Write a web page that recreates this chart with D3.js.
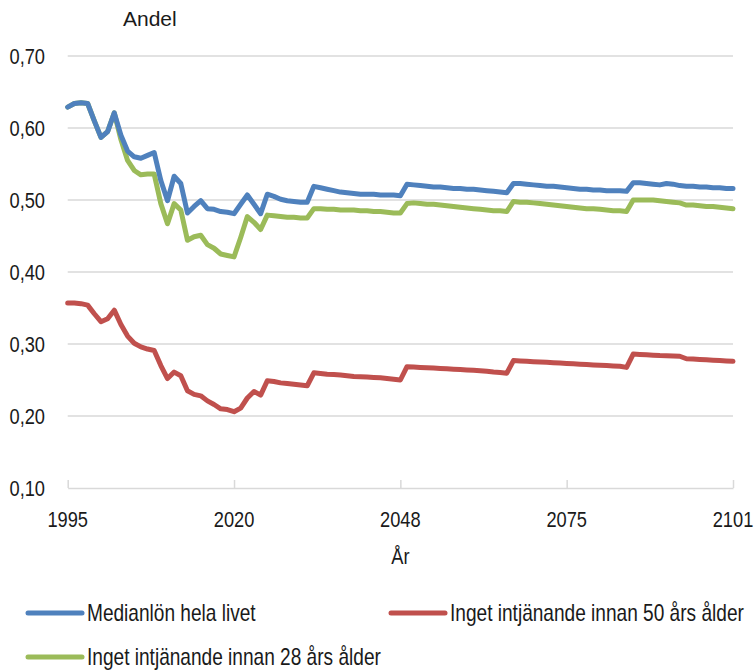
<!DOCTYPE html>
<html lang="sv">
<head>
  <meta charset="UTF-8" />
  <title>Andel</title>
  <script src="https://d3js.org/d3.v7.min.js"></script>
  <style>
    body { margin: 0; padding: 0; background: #fff; }
    svg { display: block; }
    .narrow { font-family: "Liberation Sans", Arial, sans-serif; fill: #1a1a1a; }
    .grid line { stroke: #d9d9d9; stroke-width: 1.5; }
    .series { fill: none; stroke-width: 5; stroke-linejoin: round; stroke-linecap: round; }
  </style>
</head>
<body>
<div id="chart"></div>
<script>
  // ---- data, one value per category ----
  const xTickLabels = ["1995", "2020", "2048", "2075", "2101"];
  const yTicks = [0.10, 0.20, 0.30, 0.40, 0.50, 0.60, 0.70];

  const seriesNames = [
    "Medianlön hela livet",
    "Inget intjänande innan 50 års ålder",
    "Inget intjänande innan 28 års ålder"
  ];
  const seriesColors = ["#4f81bd", "#c0504d", "#9bbb59"];

  const medianlon = [
    0.629, 0.634, 0.635, 0.634, 0.610, 0.587, 0.595, 0.621, 0.590, 0.568,
    0.560, 0.558, 0.562, 0.566, 0.527, 0.499, 0.533, 0.523, 0.482, 0.491,
    0.499, 0.488, 0.487, 0.484, 0.483, 0.481, 0.494, 0.507, 0.494, 0.481,
    0.508, 0.505, 0.501, 0.499, 0.498, 0.497, 0.497, 0.519, 0.517, 0.515,
    0.513, 0.511, 0.510, 0.509, 0.508, 0.508, 0.508, 0.507, 0.507, 0.507,
    0.506, 0.522, 0.521, 0.520, 0.519, 0.518, 0.518, 0.517, 0.516, 0.516,
    0.515, 0.515, 0.514, 0.513, 0.512, 0.511, 0.510, 0.523, 0.523, 0.522,
    0.521, 0.520, 0.519, 0.519, 0.518, 0.517, 0.516, 0.515, 0.515, 0.514,
    0.514, 0.513, 0.513, 0.513, 0.512, 0.524, 0.524, 0.523, 0.522, 0.521,
    0.523, 0.522, 0.520, 0.519, 0.519, 0.518, 0.518, 0.517, 0.517, 0.516,
    0.516
  ];

  const inget50 = [
    0.357, 0.357, 0.356, 0.354, 0.342, 0.331, 0.335, 0.347, 0.327, 0.311,
    0.301, 0.296, 0.293, 0.291, 0.270, 0.252, 0.261, 0.256, 0.235, 0.230,
    0.228, 0.221, 0.216, 0.210, 0.209, 0.206, 0.211, 0.225, 0.234, 0.229,
    0.249, 0.248, 0.246, 0.245, 0.244, 0.243, 0.242, 0.260, 0.259, 0.258,
    0.2575, 0.257, 0.256, 0.255, 0.2545, 0.254, 0.2535, 0.253, 0.252, 0.251,
    0.250, 0.2685, 0.268, 0.2675, 0.267, 0.2665, 0.266, 0.2655, 0.265, 0.2645,
    0.264, 0.2635, 0.263, 0.262, 0.261, 0.2605, 0.2595, 0.277, 0.2765, 0.276,
    0.2755, 0.275, 0.2745, 0.274, 0.2735, 0.273, 0.2725, 0.272, 0.2715, 0.271,
    0.2705, 0.270, 0.2695, 0.269, 0.2675, 0.286, 0.2855, 0.285, 0.2845, 0.284,
    0.2838, 0.2835, 0.283, 0.2795, 0.279, 0.2785, 0.278, 0.2775, 0.277, 0.2765,
    0.276
  ];

  const inget28 = [
    0.629, 0.634, 0.635, 0.634, 0.610, 0.587, 0.595, 0.621, 0.584, 0.555,
    0.541, 0.535, 0.536, 0.536, 0.495, 0.467, 0.495, 0.486, 0.444, 0.449,
    0.451, 0.438, 0.433, 0.425, 0.423, 0.421, 0.448, 0.477, 0.469, 0.459,
    0.479, 0.478, 0.477, 0.476, 0.476, 0.475, 0.475, 0.488, 0.488, 0.487,
    0.487, 0.486, 0.486, 0.486, 0.485, 0.485, 0.484, 0.484, 0.483, 0.482,
    0.482, 0.495, 0.496, 0.495, 0.494, 0.494, 0.493, 0.492, 0.491, 0.490,
    0.489, 0.488, 0.487, 0.486, 0.485, 0.485, 0.484, 0.498, 0.497, 0.497,
    0.496, 0.495, 0.494, 0.493, 0.492, 0.491, 0.490, 0.489, 0.488, 0.488,
    0.487, 0.486, 0.485, 0.485, 0.484, 0.500, 0.500, 0.500, 0.500, 0.499,
    0.498, 0.497, 0.496, 0.493, 0.493, 0.492, 0.491, 0.491, 0.490, 0.489,
    0.488
  ];

  // draw order: red first, then green, blue on top
  const seriesData = [medianlon, inget50, inget28];
  const drawOrder = [1, 2, 0];

  // ---- layout ----
  const width = 755, height = 671;
  const plot = { left: 67.7, right: 733, top: 56, bottom: 488 };
  const SQUEEZE = 0.83;  // no condensed font installed, so squeeze Liberation Sans

  const svg = d3.select("#chart").append("svg")
    .attr("width", width)
    .attr("height", height);

  const nPts = medianlon.length;
  const x = d3.scaleLinear().domain([0, nPts - 1]).range([plot.left, plot.right]);
  const y = d3.scaleLinear().domain([0.10, 0.70]).range([plot.bottom, plot.top]);

  // tick every quarter of the categories
  const step = (nPts - 1) / (xTickLabels.length - 1);
  const xTickIdx = xTickLabels.map((_, i) => i * step);

  function at(px, py) {
    return `translate(${px},${py}) scale(${SQUEEZE},1)`;
  }

  // gridlines (0.20 .. 0.70)
  svg.append("g").attr("class", "grid")
    .selectAll("line")
    .data(yTicks.filter(v => v > 0.10))
    .join("line")
    .attr("x1", plot.left).attr("x2", plot.right)
    .attr("y1", d => y(d)).attr("y2", d => y(d));

  // y labels
  svg.append("g")
    .selectAll("text")
    .data(yTicks)
    .join("text")
    .attr("class", "narrow")
    .attr("transform", d => at(45, y(d)))
    .attr("dy", "0.36em")
    .attr("text-anchor", "end")
    .style("font-size", "22px")
    .text(d => d3.format(".2f")(d).replace(".", ","));

  // x axis line with inside ticks
  const xAxis = d3.axisTop(x)
    .tickValues(xTickIdx)
    .tickSize(8)
    .tickSizeOuter(0)
    .tickFormat("");
  const gx = svg.append("g")
    .attr("transform", `translate(0,${plot.bottom})`)
    .call(xAxis);
  gx.select(".domain").attr("stroke", "#d9d9d9").attr("stroke-width", 1.5);
  gx.selectAll(".tick line").attr("stroke", "#d9d9d9").attr("stroke-width", 1.5);

  // x labels
  svg.append("g")
    .selectAll("text")
    .data(xTickIdx)
    .join("text")
    .attr("class", "narrow")
    .attr("transform", d => at(x(d), 527))
    .attr("text-anchor", "middle")
    .style("font-size", "22px")
    .text((d, i) => xTickLabels[i]);

  // axis titles
  svg.append("text")
    .attr("x", 123).attr("y", 26)
    .style("font-family", "'Liberation Sans', Arial, sans-serif")
    .style("font-size", "21px")
    .attr("fill", "#1a1a1a")
    .text("Andel");

  svg.append("text")
    .attr("class", "narrow")
    .attr("transform", at((plot.left + plot.right) / 2, 564))
    .attr("text-anchor", "middle")
    .style("font-size", "22px")
    .text("År");

  // series lines
  const line = d3.line()
    .x((d, i) => x(i))
    .y(d => y(d));

  svg.append("g")
    .selectAll("path")
    .data(drawOrder)
    .join("path")
    .attr("class", "series")
    .attr("stroke", k => seriesColors[k])
    .attr("d", k => line(seriesData[k]));

  // legend
  const legendPos = [
    { lx: 28, ly: 613 },
    { lx: 391, ly: 613 },
    { lx: 28, ly: 657 }
  ];
  const lg = svg.append("g")
    .selectAll("g")
    .data(seriesNames)
    .join("g")
    .attr("transform", (d, i) => `translate(${legendPos[i].lx},${legendPos[i].ly})`);

  lg.append("line")
    .attr("x1", 0).attr("x2", 54)
    .attr("y1", 0).attr("y2", 0)
    .attr("stroke", (d, i) => seriesColors[i])
    .attr("stroke-width", 5)
    .attr("stroke-linecap", "round");

  lg.append("text")
    .attr("class", "narrow")
    .attr("transform", at(59, 0))
    .attr("dy", "0.36em")
    .style("font-size", "23px")
    .text(d => d);
</script>
</body>
</html>
